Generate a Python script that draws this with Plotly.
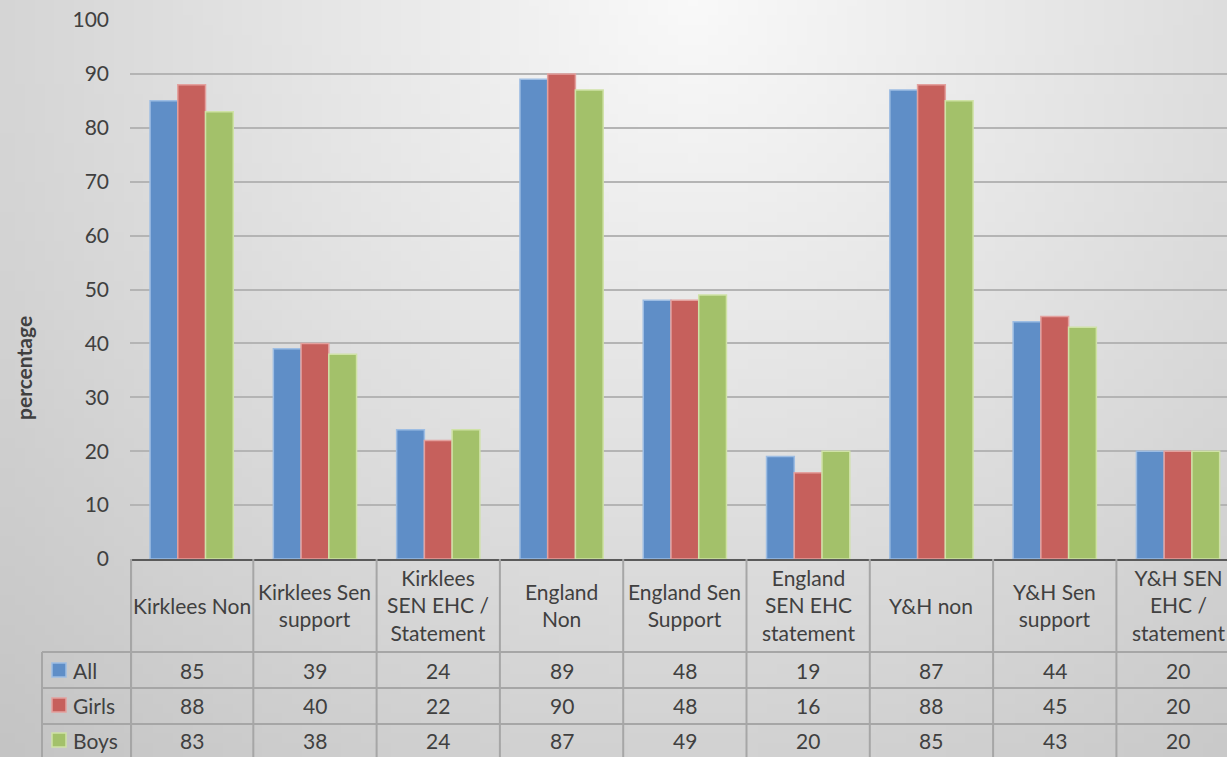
import plotly.graph_objects as go
import zlib, struct, base64, math

# ---------------- data ----------------
categories = ["Kirklees Non", "Kirklees Sen<br>support", "Kirklees<br>SEN EHC /<br>Statement",
              "England<br>Non", "England Sen<br>Support", "England<br>SEN EHC<br>statement",
              "Y&H non", "Y&H Sen<br>support", "Y&H SEN<br>EHC /<br>statement"]
series_names = ["All", "Girls", "Boys"]
all_vals = [85, 39, 24, 89, 48, 19, 87, 44, 20]
girls_vals = [88, 40, 22, 90, 48, 16, 88, 45, 20]
boys_vals = [83, 38, 24, 87, 49, 20, 85, 43, 20]
y_ticks = [0, 10, 20, 30, 40, 50, 60, 70, 80, 90, 100]
y_title = "percentage"

# ---------------- layout geometry ----------------
W, H = 1227, 757
L, T, B, R = 130, 20, 198, 0
PW = W - L - R
PH = H - T - B
COL_W = 123.3
x_range = [-0.5, -0.5 + PW / COL_W]

FONT = "Lato"
FS = 21
TXT = "#404040"
GRID = "#b4b4b4"
TLINE = "#a6a6a6"
colors = ["#5f8ec7", "#c6605c", "#a3c16a"]
edge = ["#9dbde3", "#e3a19e", "#cfe2a6"]


def pxx(p):
    return (p - L) / PW


def pxy(p):
    return (H - B - p) / PH


# ---------------- background gradient image ----------------
def make_png(w, h, fn):
    raw = bytearray()
    for j in range(h):
        raw.append(0)
        for i in range(w):
            v = fn(i, j)
            raw += bytes((v, v, v))

    def chunk(t, d):
        c = struct.pack(">I", len(d)) + t + d
        return c + struct.pack(">I", zlib.crc32(t + d) & 0xffffffff)

    return (b"\x89PNG\r\n\x1a\n"
            + chunk(b"IHDR", struct.pack(">IIBBBBB", w, h, 8, 2, 0, 0, 0))
            + chunk(b"IDAT", zlib.compress(bytes(raw)))
            + chunk(b"IEND", b""))


def grad(i, j):
    px, py = i * 10 + 5, j * 10 + 5
    d = math.hypot(px - 700, py)
    v = round(249 - 36 * d / 700)
    return max(170, min(255, v))


png = make_png(124, 77, grad)
src = "data:image/png;base64," + base64.b64encode(png).decode()

# ---------------- figure ----------------
fig = go.Figure()
xs = list(range(len(categories)))
for name, vals, c, e in zip(series_names, [all_vals, girls_vals, boys_vals], colors, edge):
    fig.add_trace(go.Bar(x=xs, y=vals, name=name, marker=dict(color=c, line=dict(color=e, width=1.5)),
                         showlegend=False, hoverinfo="y+name"))

shapes = []
annotations = []
bottom = pxy(H + 5)

# column boundaries
for i in range(len(categories) + 1):
    shapes.append(dict(type="line", xref="x", yref="paper", x0=i - 0.5, x1=i - 0.5,
                       y0=pxy(559), y1=bottom, line=dict(color=TLINE, width=2)))
shapes.append(dict(type="line", xref="paper", yref="paper", x0=0.001, x1=0.001,
                   y0=pxy(559), y1=bottom, line=dict(color=TLINE, width=2)))
# left legend column boundary
shapes.append(dict(type="line", xref="paper", yref="paper", x0=pxx(42), x1=pxx(42),
                   y0=pxy(652), y1=bottom, line=dict(color=TLINE, width=2)))
# row lines
for yp in [652, 688, 724]:
    shapes.append(dict(type="line", xref="paper", yref="paper", x0=pxx(42), x1=1.0,
                       y0=pxy(yp), y1=pxy(yp), line=dict(color=TLINE, width=2)))

# header texts
for i, cat in enumerate(categories):
    annotations.append(dict(x=i, y=pxy(605), xref="x", yref="paper", text=cat, showarrow=False,
                            align="center", xanchor="center", yanchor="middle",
                            font=dict(family=FONT, size=FS, color=TXT)))

row_centers = [670, 705, 740]
for name, vals, c, e, yc in zip(series_names, [all_vals, girls_vals, boys_vals], colors, edge, row_centers):
    shapes.append(dict(type="rect", xref="paper", yref="paper", x0=pxx(52), x1=pxx(66),
                       y0=pxy(yc + 7), y1=pxy(yc - 7), fillcolor=c, line=dict(color=e, width=1.5)))
    annotations.append(dict(x=pxx(71), y=pxy(yc), xref="paper", yref="paper", text=name, showarrow=False,
                            xanchor="left", yanchor="middle", font=dict(family=FONT, size=FS, color=TXT)))
    for i, v in enumerate(vals):
        annotations.append(dict(x=i, y=pxy(yc), xref="x", yref="paper", text=str(v), showarrow=False,
                                xanchor="center", yanchor="middle", font=dict(family=FONT, size=FS, color=TXT)))

annotations.append(dict(x=pxx(24), y=pxy(368), xref="paper", yref="paper", text="<b>" + y_title + "</b>",
                        showarrow=False, textangle=-90, xanchor="center", yanchor="middle",
                        font=dict(family=FONT, size=21, color=TXT)))

fig.update_layout(
    width=W, height=H,
    margin=dict(l=L, r=R, t=T, b=B, pad=0),
    paper_bgcolor="#dedede",
    plot_bgcolor="rgba(0,0,0,0)",
    barmode="group", bargap=0.325, bargroupgap=0,
    images=[dict(source=src, xref="paper", yref="paper", x=pxx(0), y=pxy(0),
                 sizex=W / PW, sizey=H / PH, sizing="stretch", xanchor="left", yanchor="top",
                 layer="below")],
    shapes=shapes,
    annotations=annotations,
    xaxis=dict(range=x_range, showticklabels=False, showgrid=False, zeroline=False,
               showline=True, linecolor="#5a5a5a", linewidth=2, ticks="", fixedrange=True),
    yaxis=dict(range=[0, 100], tickvals=y_ticks, showgrid=True, gridcolor=GRID, gridwidth=1.5,
               zeroline=False, showline=False, ticks="", ticklabelstandoff=20,
               tickfont=dict(family=FONT, size=FS, color=TXT), fixedrange=True),
    font=dict(family=FONT, color=TXT),
)

fig.write_html("out.html", config={"displayModeBar": False},
               post_script="document.body.style.margin='0';document.body.style.overflow='hidden';")
